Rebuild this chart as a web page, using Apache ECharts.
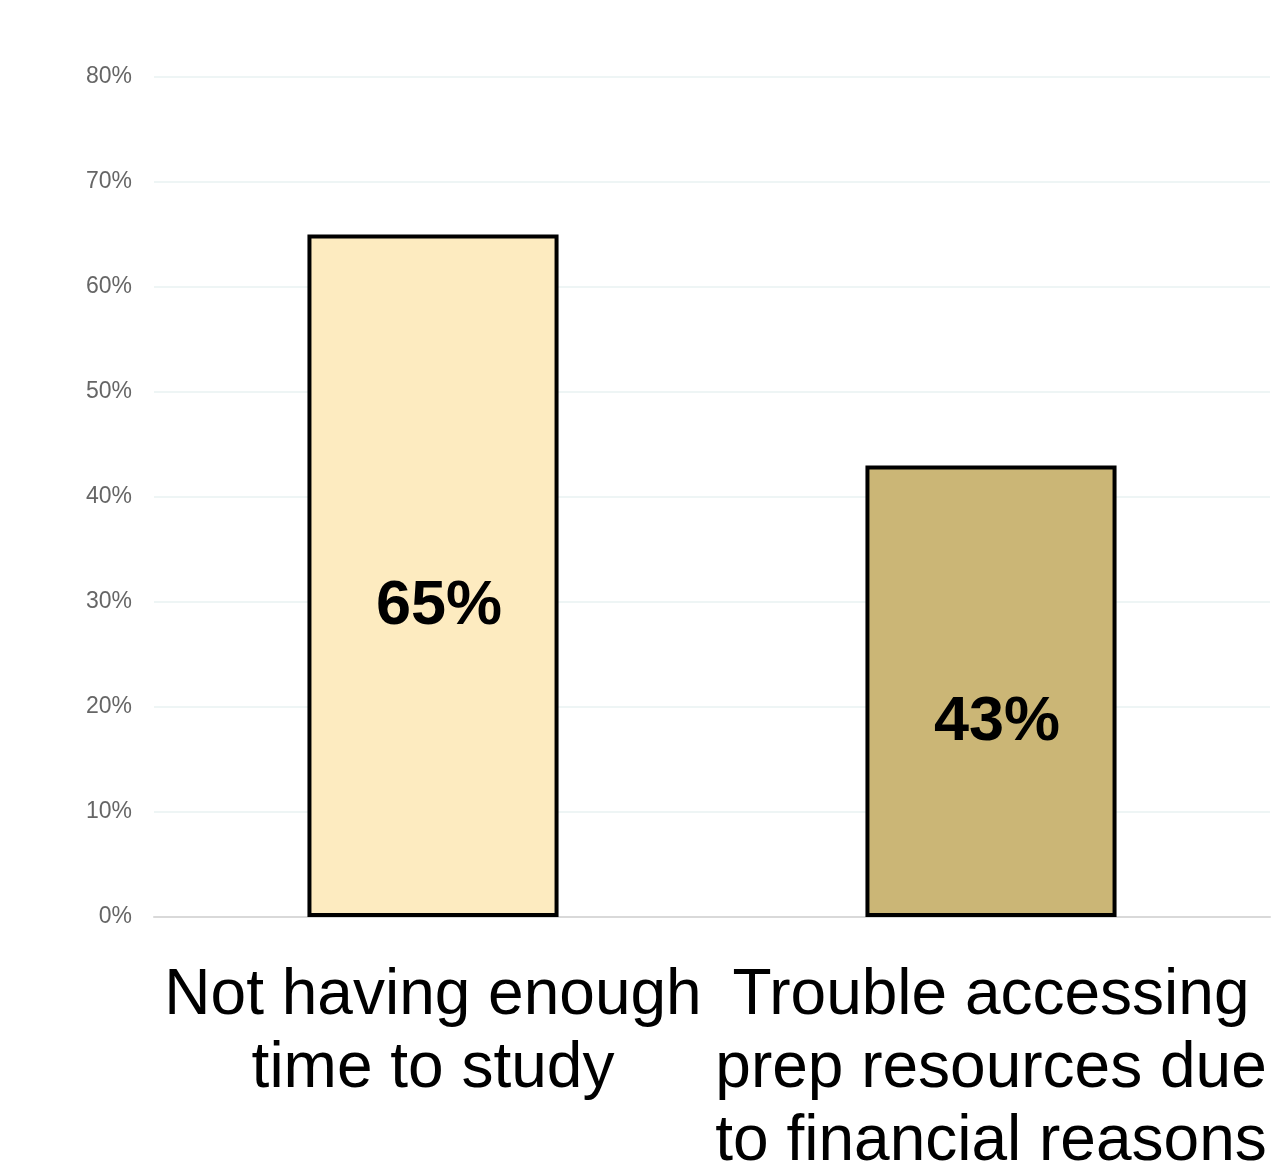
<!DOCTYPE html>
<html>
<head>
<meta charset="utf-8">
<script src="https://cdn.jsdelivr.net/npm/echarts@6/dist/echarts.min.js"></script>
<style>
  html, body { margin: 0; padding: 0; background: #fff; }
  #chart { width: 1284px; height: 1167px; }
</style>
</head>
<body>
<div id="chart"></div>
<script>
// categories and values
const categories = ['Not having enough\ntime to study', 'Trouble accessing\nprep resources due\nto financial reasons']
const values = [65, 43]
const barColors = ['#FDEBC0', '#CBB676']

const chart = echarts.init(document.getElementById('chart'))
const option = {
  animation: false,
  textStyle: { fontFamily: 'Liberation Sans, Arial, sans-serif' },
  grid: { left: 154, right: 14, top: 77, bottom: 250, containLabel: false, outerBoundsMode: 'none' },
  xAxis: {
    type: 'category',
    data: categories,
    axisTick: { show: false },
    axisLine: { lineStyle: { color: '#d9d9d9', width: 2 } },
    axisLabel: {
      color: '#000',
      fontSize: 64,
      lineHeight: 73,
      margin: 43,
      interval: 0
    }
  },
  yAxis: {
    type: 'value',
    min: 0,
    max: 80,
    interval: 10,
    axisLine: { show: false },
    axisTick: { show: false },
    axisLabel: {
      formatter: '{value}%',
      color: '#666',
      fontSize: 23,
      margin: 22
    },
    splitLine: { lineStyle: { color: '#eef5f5', width: 2 } }
  },
  series: [{
    type: 'bar',
    barWidth: '45%',
    data: values.map((v, i) => ({
      value: v,
      itemStyle: { color: barColors[i] }
    })),
    itemStyle: { borderColor: '#000', borderWidth: 4 },
    label: {
      show: true,
      position: 'inside',
      offset: [6, 31],
      formatter: '{c}%',
      color: '#000',
      fontSize: 63,
      fontWeight: 'bold'
    }
  }]
}
chart.setOption(option)
</script>
</body>
</html>
